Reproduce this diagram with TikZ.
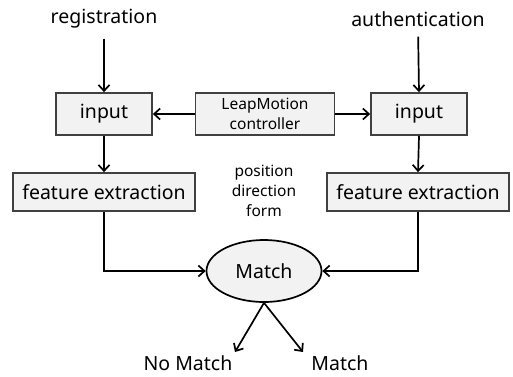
\documentclass[tikz,border=0pt]{standalone}
\usepackage{fontspec}
\setmainfont{Noto Sans}
\usetikzlibrary{arrows.meta, shapes.geometric}
\definecolor{boxfill}{RGB}{242,242,242}
\definecolor{boxline}{RGB}{64,64,64}

\begin{document}
\begin{tikzpicture}[x=1pt, y=-1pt,
 blk/.style={draw=boxline, fill=boxfill, line width=1.7pt, minimum height=42pt, inner sep=0pt, font=\fontsize{19.5}{22}\selectfont},
 lbl/.style={inner sep=0pt, font=\fontsize{19.5}{22}\selectfont},
 small/.style={inner sep=0pt, align=center, font=\fontsize{15.5}{20}\selectfont},
 arr/.style={-{Straight Barb[length=6pt, width=11pt]}, line width=1.7pt}
]
\useasboundingbox (0,0) rectangle (513,376);

%entry labels
\node[lbl] (reg) at (104,19) {registration};
\node[lbl] (auth) at (418,19) {authentication};

%boxes
\node[blk, minimum width=96pt] (inL) at (104,114) {input};
\node[blk, minimum width=96pt] (inR) at (419,114) {input};
\node[blk, minimum width=139pt, font=\fontsize{15.5}{20}\selectfont, align=center] (leap) at (265,114) {LeapMotion\\controller};
\node[blk, minimum width=182pt, minimum height=38pt] (featL) at (104,192) {feature extraction};
\node[blk, minimum width=182pt, minimum height=38pt] (featR) at (418,192) {feature extraction};
\node[small] (attr) at (264,191) {position\\direction\\form};

%match
\node[ellipse, draw=black, fill=boxfill, line width=1.7pt, minimum width=115pt, minimum height=62pt, inner sep=0pt, font=\fontsize{19.5}{22}\selectfont] (match) at (264,271) {Match};
\node[lbl] (nomatch) at (188,363) {No Match};
\node[lbl] (yesmatch) at (340,363) {Match};
\coordinate (tipL) at (235,352);
\coordinate (tipR) at (303,352);

%arrows
\draw[arr, shorten <=10pt] (reg.south) -- (inL.north);
\draw[arr, shorten <=10pt] (auth.south) -- (inR.north);
\draw[arr] (leap.west) -- (inL.east);
\draw[arr] (leap.east) -- (inR.west);
\draw[arr] (inL.south) -- (featL.north);
\draw[arr] (inR.south) -- (featR.north);
\draw[arr] (featL.south) |- (match.west);
\draw[arr] (featR.south) |- (match.east);
\draw[arr] (match.south) -- (tipL);
\draw[arr] (match.south) -- (tipR);

\end{tikzpicture}
\end{document}
